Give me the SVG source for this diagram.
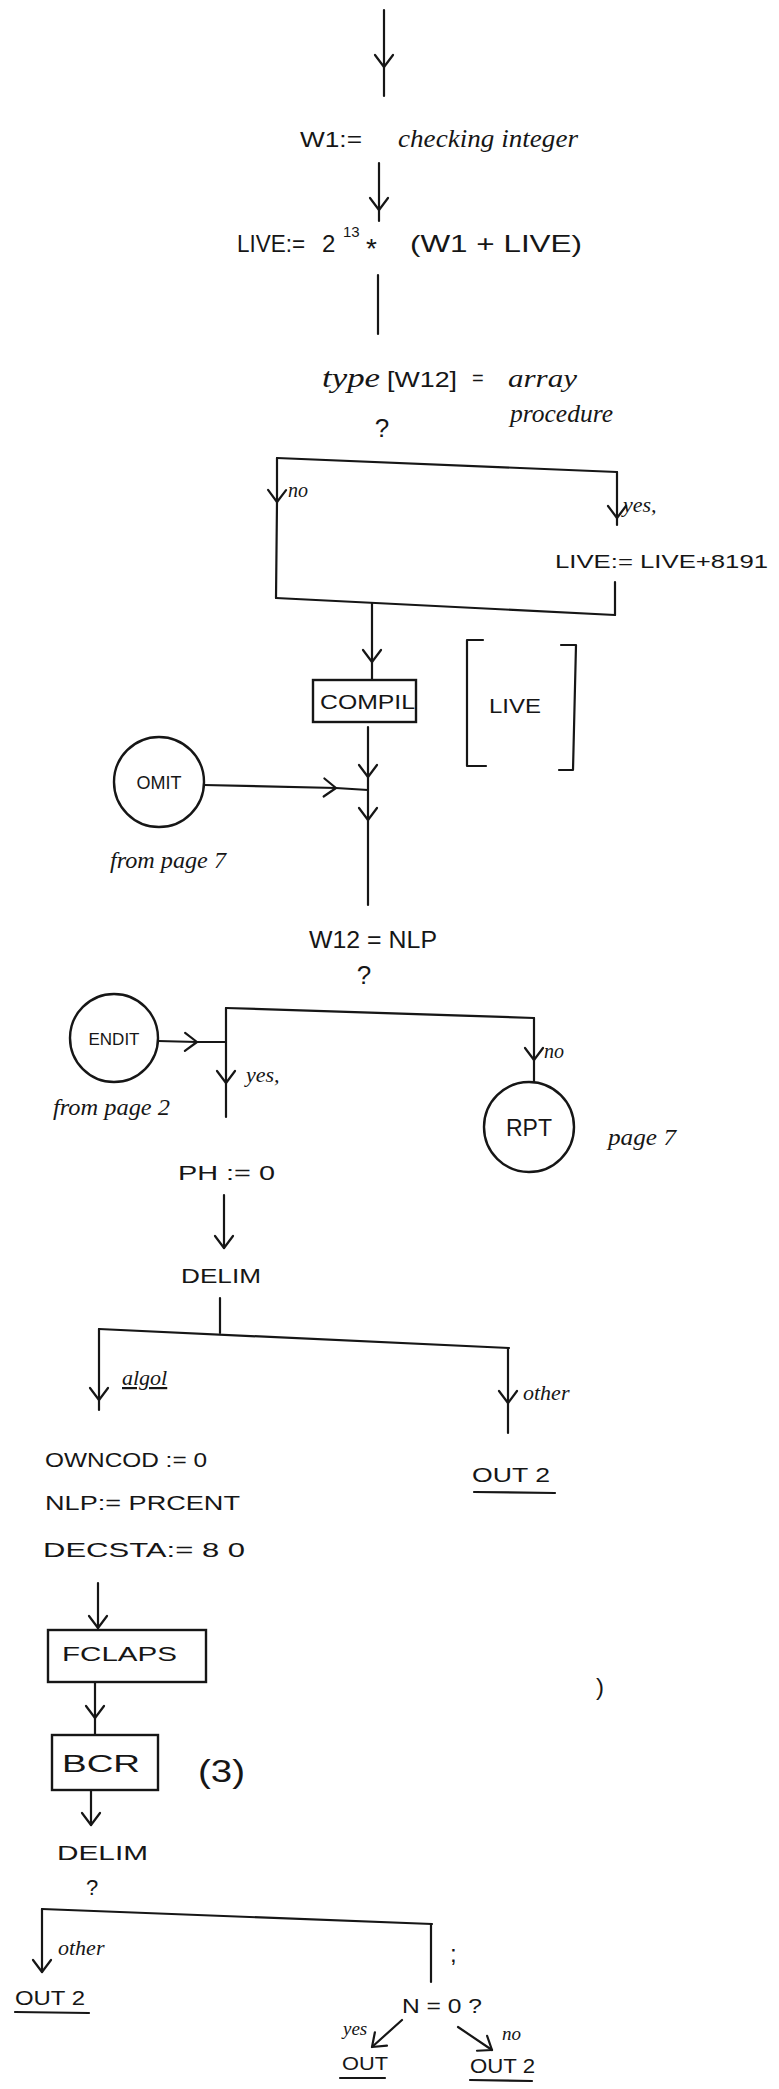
<svg xmlns="http://www.w3.org/2000/svg" width="779" height="2089" viewBox="0 0 779 2089">
<defs>
<style>
.ln{fill:none;stroke:#161616;stroke-width:2.2;stroke-linecap:round;stroke-linejoin:round}
.mid{marker-mid:url(#chev)}
.end{marker-end:url(#chev)}
.bx{fill:none;stroke:#161616;stroke-width:2.4}
.t{font-family:"Liberation Sans","DejaVu Sans",sans-serif;fill:#161616}
.h{font-family:"Liberation Serif","DejaVu Serif",serif;font-style:italic;fill:#161616}
.c{text-anchor:middle}
</style>
<marker id="chev" markerUnits="userSpaceOnUse" orient="auto" markerWidth="30" markerHeight="30" refX="0" refY="0" viewBox="-15 -15 30 30" style="overflow:visible">
<path d="M-12,-9 L0,0 L-12,9" fill="none" stroke="#161616" stroke-width="2.2" stroke-linecap="round" stroke-linejoin="round"/>
</marker>
</defs>
<rect width="779" height="2089" fill="#ffffff"/>

<g id="connectors">
<path class="ln mid" d="M384,10 L384,67 L384,96"/>
<path class="ln mid" d="M379,163 L379,210 L379,221"/>
<path class="ln" d="M378,275 L378,334"/>
<path class="ln" d="M277,458 L617,472"/>
<path class="ln mid" d="M277,458 L277,502 L276,598"/>
<path class="ln mid" d="M617,472 L617,518 L617,525"/>
<path class="ln" d="M615,582 L615,615"/>
<path class="ln" d="M276,598 L615,615"/>
<path class="ln mid" d="M372,603 L372,662 L372,680"/>
<path class="ln mid" d="M368,727 L368,777 L368,820 L368,905"/>
<path class="ln mid" d="M204,785 L336,788 L368,790"/>
<path class="ln" d="M226,1008 L534,1018"/>
<path class="ln mid" d="M226,1008 L226,1083 L226,1117"/>
<path class="ln mid" d="M534,1018 L534,1060 L534,1082"/>
<path class="ln mid" d="M158,1041 L197,1042 L226,1042"/>
<path class="ln end" d="M224,1195 L224,1248"/>
<path class="ln" d="M220,1298 L220,1333"/>
<path class="ln" d="M99,1329 L509,1348"/>
<path class="ln mid" d="M99,1329 L99,1400 L99,1410"/>
<path class="ln mid" d="M508,1348 L508,1403 L508,1433"/>
<path class="ln end" d="M98,1583 L98,1628"/>
<path class="ln mid" d="M95,1682 L95,1718 L95,1735"/>
<path class="ln end" d="M91,1790 L91,1825"/>
<path class="ln" d="M42,1909 L432,1924"/>
<path class="ln end" d="M42,1909 L42,1972"/>
<path class="ln" d="M431,1924 L431,1982"/>
<path class="ln end" d="M402,2020 L372,2047"/>
<path class="ln end" d="M458,2027 L492,2050"/>
</g>

<g id="n-w1">
<text class="t" x="300" y="147" font-size="22" textLength="62" lengthAdjust="spacingAndGlyphs">W1:=</text>
<text class="h" x="398" y="147" font-size="26" textLength="180" lengthAdjust="spacingAndGlyphs">checking integer</text>
</g>

<g id="n-live">
<text class="t" x="237" y="252" font-size="24" textLength="68" lengthAdjust="spacingAndGlyphs">LIVE:=</text>
<text class="t" x="322" y="252" font-size="24">2</text>
<text class="t" x="343" y="237" font-size="15">13</text>
<text class="t" x="366" y="258" font-size="28">*</text>
<text class="t" x="410" y="252" font-size="24" textLength="172" lengthAdjust="spacingAndGlyphs">(W1 + LIVE)</text>
</g>

<g id="n-type">
<text class="h" x="322" y="387" font-size="28" textLength="58" lengthAdjust="spacingAndGlyphs">type</text>
<text class="t" x="387" y="387" font-size="22" textLength="70" lengthAdjust="spacingAndGlyphs">[W12]</text>
<text class="t" x="472" y="385" font-size="20">=</text>
<text class="h" x="508" y="387" font-size="26" textLength="69" lengthAdjust="spacingAndGlyphs">array</text>
<text class="h" x="510" y="422" font-size="26" textLength="103" lengthAdjust="spacingAndGlyphs">procedure</text>
<text class="t c" x="382" y="437" font-size="26">?</text>
<text class="h" x="288" y="497" font-size="20">no</text>
<text class="h" x="623" y="512" font-size="22">yes,</text>
</g>

<g id="n-live8191">
<text class="t" x="555" y="568" font-size="19" textLength="213" lengthAdjust="spacingAndGlyphs">LIVE:= LIVE+8191</text>
</g>

<g id="n-compil">
<rect class="bx" x="313" y="680" width="103" height="42"/>
<text class="t" x="320" y="709" font-size="21" textLength="95" lengthAdjust="spacingAndGlyphs">COMPIL</text>
</g>

<g id="n-livebracket">
<path class="ln" d="M483,640 L467,640 L467,766 L486,766"/>
<path class="ln" d="M561,645 L576,645 L573,770 L559,770"/>
<text class="t" x="489" y="713" font-size="21" textLength="52" lengthAdjust="spacingAndGlyphs">LIVE</text>
</g>

<g id="n-omit">
<circle class="bx" cx="159" cy="782" r="45"/>
<text class="t c" x="159" y="789" font-size="18">OMIT</text>
<text class="h" x="110" y="868" font-size="24" textLength="116" lengthAdjust="spacingAndGlyphs">from page 7</text>
</g>

<g id="n-w12nlp">
<text class="t" x="309" y="948" font-size="23" textLength="128" lengthAdjust="spacingAndGlyphs">W12 = NLP</text>
<text class="t c" x="364" y="984" font-size="26">?</text>
</g>

<g id="n-endit">
<circle class="bx" cx="114" cy="1038" r="44"/>
<text class="t c" x="114" y="1045" font-size="17">ENDIT</text>
<text class="h" x="53" y="1115" font-size="24" textLength="117" lengthAdjust="spacingAndGlyphs">from page 2</text>
<text class="h" x="246" y="1082" font-size="22">yes,</text>
<text class="h" x="544" y="1058" font-size="20">no</text>
</g>

<g id="n-rpt">
<circle class="bx" cx="529" cy="1127" r="45"/>
<text class="t c" x="529" y="1136" font-size="23">RPT</text>
<text class="h" x="608" y="1145" font-size="24" textLength="68" lengthAdjust="spacingAndGlyphs">page 7</text>
</g>

<g id="n-ph">
<text class="t" x="178" y="1180" font-size="21" textLength="97" lengthAdjust="spacingAndGlyphs">PH := 0</text>
</g>

<g id="n-delim1">
<text class="t" x="181" y="1283" font-size="21" textLength="80" lengthAdjust="spacingAndGlyphs">DELIM</text>
<text class="h" x="122" y="1385" font-size="22" text-decoration="underline">algol</text>
<text class="h" x="523" y="1400" font-size="22">other</text>
</g>

<g id="n-out2a">
<text class="t" x="472" y="1482" font-size="21" textLength="78" lengthAdjust="spacingAndGlyphs">OUT 2</text>
<path class="ln" d="M474,1492 L555,1493"/>
</g>

<g id="n-assign">
<text class="t" x="45" y="1467" font-size="20" textLength="162" lengthAdjust="spacingAndGlyphs">OWNCOD := 0</text>
<text class="t" x="45" y="1510" font-size="20" textLength="195" lengthAdjust="spacingAndGlyphs">NLP:= PRCENT</text>
<text class="t" x="43" y="1557" font-size="20" textLength="202" lengthAdjust="spacingAndGlyphs">DECSTA:= 8 0</text>
</g>

<g id="n-fclaps">
<rect class="bx" x="48" y="1630" width="158" height="52"/>
<text class="t" x="62" y="1661" font-size="21" textLength="115" lengthAdjust="spacingAndGlyphs">FCLAPS</text>
</g>

<g id="n-paren">
<text class="t" x="596" y="1695" font-size="24">)</text>
</g>

<g id="n-bcr">
<rect class="bx" x="52" y="1735" width="106" height="55"/>
<text class="t" x="62" y="1772" font-size="24" textLength="78" lengthAdjust="spacingAndGlyphs">BCR</text>
<text class="t" x="198" y="1782" font-size="32" textLength="47" lengthAdjust="spacingAndGlyphs">(3)</text>
</g>

<g id="n-delim2">
<text class="t" x="57" y="1860" font-size="21" textLength="91" lengthAdjust="spacingAndGlyphs">DELIM</text>
<text class="t c" x="92" y="1895" font-size="22">?</text>
<text class="h" x="58" y="1955" font-size="22">other</text>
<text class="t" x="450" y="1962" font-size="24">;</text>
</g>

<g id="n-out2b">
<text class="t" x="15" y="2005" font-size="20" textLength="70" lengthAdjust="spacingAndGlyphs">OUT 2</text>
<path class="ln" d="M15,2012 L89,2013"/>
</g>

<g id="n-n0">
<text class="t" x="402" y="2013" font-size="21" textLength="80" lengthAdjust="spacingAndGlyphs">N = 0 ?</text>
<text class="h" x="343" y="2035" font-size="19">yes</text>
<text class="h" x="502" y="2040" font-size="19">no</text>
</g>

<g id="n-out">
<text class="t" x="342" y="2070" font-size="19" textLength="46" lengthAdjust="spacingAndGlyphs">OUT</text>
<path class="ln" d="M340,2078 L385,2078"/>
</g>

<g id="n-out2c">
<text class="t" x="470" y="2073" font-size="20" textLength="65" lengthAdjust="spacingAndGlyphs">OUT 2</text>
<path class="ln" d="M470,2080 L532,2081"/>
</g>
</svg>
